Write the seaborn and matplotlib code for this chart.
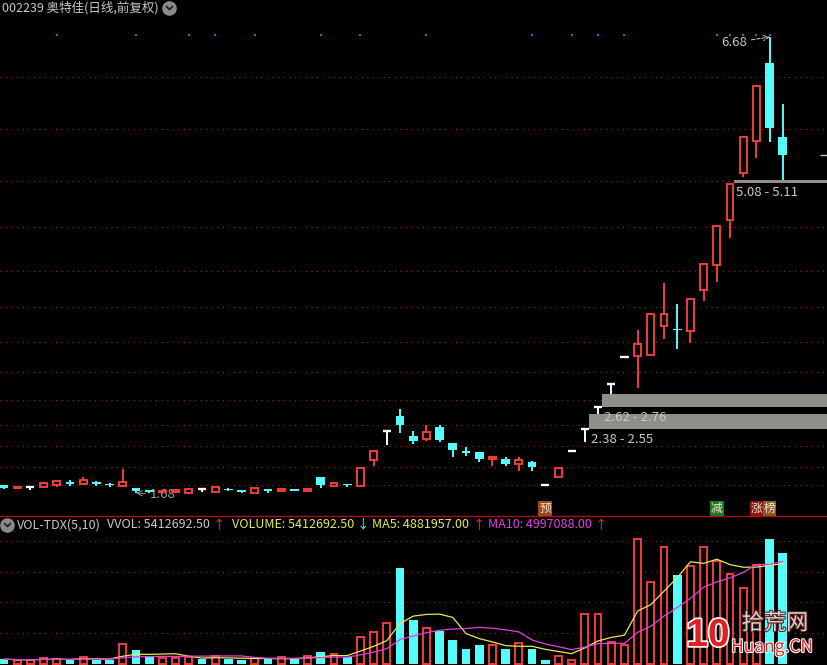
import numpy as np
import pandas as pd
import matplotlib.pyplot as plt
import seaborn as sns
from matplotlib.lines import Line2D
from matplotlib.transforms import blended_transform_factory
import matplotlib.patheffects as pe

# daily bars for 002239
opens = [1.77, 1.74, 1.75, 1.745, 1.77, 1.79, 1.78, 1.79, 1.775, 1.76,
         1.73, 1.70, 1.69, 1.695, 1.685, 1.72, 1.69, 1.72, 1.71, 1.685,
         1.72, 1.705, 1.715, 1.70, 1.86, 1.76, 1.775, 1.755, 2.04, 2.36,
         2.52, 2.31, 2.27, 2.40, 2.225, 2.135, 2.125, 2.055, 2.05, 2.00,
         2.025, 1.77, 1.86, 2.145, 2.38, 2.62, 2.88, 3.17, 3.18, 3.19,
         3.515, 3.475, 3.46, 3.91, 4.18, 4.67, 5.19, 5.54, 6.40, 5.58]
highs = [1.77, 1.75, 1.75, 1.79, 1.815, 1.82, 1.85, 1.81, 1.79, 1.94,
         1.73, 1.71, 1.705, 1.715, 1.73, 1.72, 1.75, 1.73, 1.71, 1.735,
         1.725, 1.725, 1.72, 1.74, 1.86, 1.80, 1.78, 1.96, 2.15, 2.36,
         2.60, 2.36, 2.43, 2.43, 2.225, 2.18, 2.125, 2.075, 2.08, 2.07,
         2.03, 1.77, 1.95, 2.145, 2.38, 2.62, 2.88, 3.17, 3.47, 3.65,
         3.98, 3.75, 3.81, 4.20, 4.61, 5.08, 5.58, 6.14, 6.68, 5.95]
lows = [1.72, 1.73, 1.71, 1.73, 1.75, 1.755, 1.78, 1.76, 1.75, 1.76,
        1.68, 1.68, 1.68, 1.68, 1.68, 1.69, 1.68, 1.70, 1.68, 1.68,
        1.685, 1.70, 1.70, 1.69, 1.73, 1.755, 1.745, 1.75, 1.98, 2.21,
        2.34, 2.22, 2.25, 2.235, 2.07, 2.09, 2.02, 1.98, 1.98, 1.92,
        1.92, 1.77, 1.86, 2.145, 2.24, 2.55, 2.76, 3.17, 2.83, 3.18,
        3.365, 3.26, 3.33, 3.79, 3.99, 4.48, 5.15, 5.35, 5.53, 5.11]
closes = [1.74, 1.75, 1.75, 1.79, 1.815, 1.785, 1.82, 1.785, 1.77, 1.80,
          1.70, 1.695, 1.70, 1.715, 1.725, 1.72, 1.745, 1.715, 1.69, 1.73,
          1.705, 1.72, 1.71, 1.725, 1.77, 1.79, 1.77, 1.95, 2.145, 2.36,
          2.43, 2.255, 2.345, 2.265, 2.15, 2.13, 2.05, 2.075, 2.00, 2.04,
          1.97, 1.77, 1.95, 2.145, 2.38, 2.62, 2.88, 3.17, 3.31, 3.64,
          3.64, 3.47, 3.81, 4.19, 4.61, 5.07, 5.58, 6.14, 5.68, 5.39]
# volume in millions
volumes = [0.21, 0.17, 0.17, 0.25, 0.24, 0.17, 0.33, 0.17, 0.17, 0.94,
           0.66, 0.30, 0.25, 0.25, 0.33, 0.21, 0.38, 0.21, 0.17, 0.25,
           0.21, 0.33, 0.21, 0.38, 0.55, 0.47, 0.33, 1.31, 1.53, 1.97,
           4.67, 2.13, 1.73, 1.61, 1.15, 0.71, 0.91, 0.91, 0.70, 0.99,
           0.71, 0.17, 0.37, 0.17, 2.41, 2.41, 1.04, 0.91, 6.09, 3.98,
           5.72, 4.34, 4.80, 5.70, 5.00, 4.39, 3.70, 4.84, 6.10, 5.41]

event_days = [4, 10, 14, 16, 19, 24, 27, 32, 40, 43, 45, 47, 54, 55, 56, 57, 58]
grid_prices = [6.24, 5.67, 5.10, 4.60, 4.11, 3.72, 3.34, 3.01, 2.70, 2.43, 2.19, 1.97, 1.77]
grid_vols = [1.5, 3.0, 4.5, 6.0]
gap_days = [44, 45, 55]
gap_low = [2.38, 2.62, 5.08]
gap_high = [2.55, 2.76, 5.11]
tag_days = [41, 54, 57, 58]
tag_text = ['预', '减', '涨', '榜']
tag_color = ['#9a4a1c', '#1f7a24', '#8e1414', '#8c5a1e']

RED = '#f23c3c'
CYAN = '#54fcfc'
YELLOW = '#e8e85a'
MAGENTA = '#e040e0'
GRAY_TXT = '#c8c8c8'
GRID = '#a02020'

W, H = 828, 665

def fx(x):
    return x / W

def fy(y):
    return 1 - y / H

df = pd.DataFrame({'open': opens, 'high': highs, 'low': lows, 'close': closes, 'vol': volumes})
df['ma5'] = df['vol'].rolling(5, min_periods=1).mean()
df['ma10'] = df['vol'].rolling(10, min_periods=1).mean()
prev_close = df['close'].shift(1).fillna(df['close'])
df['up'] = (df['close'] > df['open']) | ((df['close'] == df['open']) & (df['close'] >= prev_close))

sns.set_style('dark', {'axes.facecolor': 'black', 'figure.facecolor': 'black'})
plt.rcParams['font.family'] = ['Noto Sans CJK SC', 'DejaVu Sans']

fig = plt.figure(figsize=(W / 100, H / 100), dpi=100, facecolor='black')
ax = fig.add_axes([0, fy(515), 1, 515 / H])
axv = fig.add_axes([0, 0, 1, 149 / H])
for a in (ax, axv):
    a.set_xlim(-0.3, 62.42)
    a.axis('off')
ax.set_ylim(1.4386, 7.0857)
axv.set_ylim(-0.0735, 7.23)

# grid
for p in grid_prices:
    ax.axhline(p, color=GRID, lw=0.8, ls=(0, (1, 4)), zorder=0)
for v in grid_vols:
    axv.axhline(v, color=GRID, lw=0.8, ls=(0, (1, 4)), zorder=0)

# gap bands
for d, lo, hi in zip(gap_days, gap_low, gap_high):
    ax.fill_between([d + 0.33, 62.5], lo, hi, color='#8f8f8a', lw=0, zorder=1)
    ax.annotate(f'{lo:.2f} - {hi:.2f}', xy=(d + 0.33, lo), xytext=(1.5, -2.5),
                textcoords='offset points', ha='left', va='top',
                color=GRAY_TXT, fontsize=9.5, zorder=2)

# candles
for i, r in df.iterrows():
    o, h, l, c = r['open'], r['high'], r['low'], r['close']
    if c > o:
        ax.vlines(i, c, h, color=RED, lw=1.4, zorder=3)
        ax.vlines(i, l, o, color=RED, lw=1.4, zorder=3)
        ax.bar(i, c - o, bottom=o, width=0.52, facecolor='black',
               edgecolor=RED, linewidth=1.4, zorder=4)
    elif c < o:
        ax.vlines(i, l, h, color=CYAN, lw=1.4, zorder=3)
        hgt = max(o - c, 0.02)
        ax.bar(i, hgt, bottom=(o + c) / 2 - hgt / 2, width=0.66, color=CYAN, lw=0, zorder=4)
    else:
        ax.vlines(i, l, h, color='white', lw=1.4, zorder=3)
        ax.hlines(o, i - 0.31, i + 0.31, color='white', lw=1.7, zorder=4)

# volume bars
for i, r in df.iterrows():
    if r['up']:
        axv.bar(i, r['vol'], width=0.52, facecolor='black', edgecolor=RED,
                linewidth=1.4, zorder=2)
    else:
        axv.bar(i, r['vol'], width=0.66, color=CYAN, lw=0, zorder=2)

sns.lineplot(x=df.index, y=df['ma5'], ax=axv, color=YELLOW, lw=0.9, legend=False, zorder=3)
sns.lineplot(x=df.index, y=df['ma10'], ax=axv, color=MAGENTA, lw=0.9, legend=False, zorder=3)
axv.set_xlim(-0.3, 62.42)
axv.set_ylim(-0.0735, 7.23)
axv.axis('off')

# high / low labels
hi_i = int(np.argmax(highs))
lo_i = int(np.argmin(lows))
ax.annotate(f'{highs[hi_i]:.2f}', xy=(hi_i, highs[hi_i]), xytext=(-16.5, -4),
            textcoords='offset points', ha='right', va='center', color=GRAY_TXT,
            fontsize=9.5, arrowprops=dict(arrowstyle='->', ls='--', color=GRAY_TXT,
                                          lw=0.7, shrinkA=1, shrinkB=0), zorder=5)
ax.annotate(f'{lows[lo_i]:.2f}', xy=(lo_i, lows[lo_i]), xytext=(10, -1),
            textcoords='offset points', ha='left', va='center', color='#9a9a9a',
            fontsize=9.5, arrowprops=dict(arrowstyle='->', color='#9a9a9a',
                                          lw=0.7, shrinkA=1, shrinkB=0), zorder=2)

# event markers on top row
top = blended_transform_factory(ax.transData, ax.transAxes)
ax.scatter(event_days, [1 - 35 / 515] * len(event_days), transform=top,
           marker='s', s=3, color='#b030c0', lw=0, zorder=5)

# info tags at the bottom of the price panel
for d, t, col in zip(tag_days, tag_text, tag_color):
    ax.text(d, 1 - 508.5 / 515, t, transform=top, ha='center', va='center',
            fontsize=8.5, color='#f2e2d2',
            bbox=dict(boxstyle='square,pad=0.08', fc=col, ec='none'), zorder=6)

# last price tick at the right edge
ax.hlines(closes[-1], 61.8, 62.5, color='#c8c8a0', lw=1, zorder=3)

# headers
fig.text(fx(2), fy(8), '002239 奥特佳(日线,前复权)', ha='left', va='center',
         color=GRAY_TXT, fontsize=9)
for cx, cy in [(169.5, 8), (7.5, 525)]:
    fig.add_artist(Line2D([fx(cx)], [fy(cy)], marker='o', ms=9.5, color='#8a8a8a', lw=0))
    fig.add_artist(Line2D([fx(cx - 3), fx(cx), fx(cx + 3)], [fy(cy - 1.5), fy(cy + 1.5), fy(cy - 1.5)],
                          color='#202020', lw=1.3))

fig.add_artist(Line2D([0, 1], [fy(516), fy(516)], color='#b01010', lw=1))

header = [(17, 'VOL-TDX(5,10)', GRAY_TXT),
          (107, 'VVOL: 5412692.50', GRAY_TXT),
          (213, '↑', RED),
          (232, 'VOLUME: 5412692.50', YELLOW),
          (357, '↓', CYAN),
          (372, 'MA5: 4881957.00', YELLOW),
          (473, '↑', RED),
          (488, 'MA10: 4997088.00', MAGENTA),
          (595, '↑', RED)]
for x, t, col in header:
    fig.text(fx(x), fy(525), t, ha='left', va='center', color=col, fontsize=9)

# site watermark
fig.text(fx(708), fy(636), '10', ha='center', va='center', fontsize=28, weight='bold',
         family='Liberation Sans', color='#e02020',
         path_effects=[pe.withStroke(linewidth=2.5, foreground='white')])
fig.text(fx(775), fy(623), '拾荒网', ha='center', va='center', fontsize=16,
         color='#d4d4d4', path_effects=[pe.withStroke(linewidth=1.5, foreground='#602020')])
fig.text(fx(772), fy(647), 'Huang.CN', ha='center', va='center', fontsize=12.5,
         color='#e02828', path_effects=[pe.withStroke(linewidth=1.5, foreground='white')])

fig.savefig('out.png', dpi=100, facecolor='black')
